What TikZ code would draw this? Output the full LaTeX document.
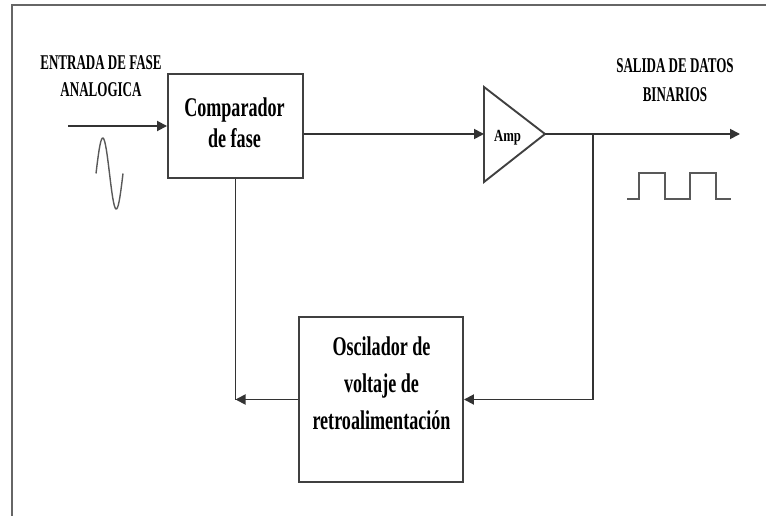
\documentclass[tikz,border=0pt]{standalone}
\usepackage{fontspec}
\setmainfont{Liberation Serif}
\newfontfamily\boxfont[FakeStretch=0.67]{Liberation Serif}
\newfontfamily\capfont[FakeStretch=0.62]{Liberation Serif}
\newfontfamily\ampfont[FakeStretch=0.75]{Liberation Serif}
\usetikzlibrary{arrows.meta}
\begin{document}
\begin{tikzpicture}[x=1pt,y=-1pt,
  boxst/.style={draw=black!75,line width=1.9pt,rectangle,inner sep=0pt},
  lbl/.style={align=center,inner sep=0pt,text=black},
  wire/.style={draw=black!80,line width=1.8pt},
  arr/.style={wire,-{Triangle[length=10pt,width=10pt]}},
  frame/.style={draw=black!60,line width=2.2pt},
  wave/.style={draw=black!65,line width=1.4pt}]
\useasboundingbox (0,0) rectangle (766,516);
% frame
\draw[frame] (12,516) -- (12,5) -- (766,5);
% boxes
\node[boxst,minimum width=135pt,minimum height=104pt] (comp) at (235.5,126) {};
\node[lbl,font=\boxfont\bfseries\fontsize{27}{31}\selectfont] (comptxt) at (234.5,123) {Comparador\\de fase};
\node[boxst,minimum width=164pt,minimum height=165pt] (osc) at (381,399.5) {};
\node[lbl,font=\boxfont\bfseries\fontsize{27}{37}\selectfont] (osctxt) at (381.5,383) {Oscilador de\\voltaje de\\retroalimentación};
% amplifier
\coordinate (ampT) at (484,87);
\coordinate (ampB) at (484,182);
\coordinate (ampO) at (545,134);
\coordinate (ampI) at (484,134);
\draw[boxst] (ampT) -- (ampO) -- (ampB) -- cycle;
\node[lbl,font=\ampfont\bfseries\fontsize{17}{20}\selectfont] (amptxt) at (507.5,138) {Amp};
% labels
\node[lbl,font=\capfont\bfseries\fontsize{21}{27}\selectfont] (inlbl) at (101,76) {ENTRADA DE FASE\\ANALOGICA};
\node[lbl,font=\capfont\bfseries\fontsize{21}{29}\selectfont] (outlbl) at (675,80) {SALIDA DE DATOS\\BINARIOS};
% connectors
\coordinate (inS) at (68,126);
\coordinate (outE) at (740,134);
\coordinate (br) at (593,134);
\draw[arr] (inS) -- (comp.west);
\draw[arr] (comp.east |- ampI) -- (ampI);
\draw[arr] (ampO) -- (outE);
\draw[arr] (br) |- (osc.east);
\draw[arr] (osc.west) -- (osc.west -| comp.south);
\draw[wire] (comp.south) -- (comp.south |- osc.west);
% sine wave
\draw[wave] plot[smooth,domain=0:360,samples=40] ({96+\x/360*27},{173.5-35.5*sin(\x)});
% square wave
\draw[wave] (627,199) -- (639,199) -- (639,173) -- (665,173) -- (665,199) -- (690,199) -- (690,173) -- (716,173) -- (716,199) -- (731,199);
\end{tikzpicture}
\end{document}
